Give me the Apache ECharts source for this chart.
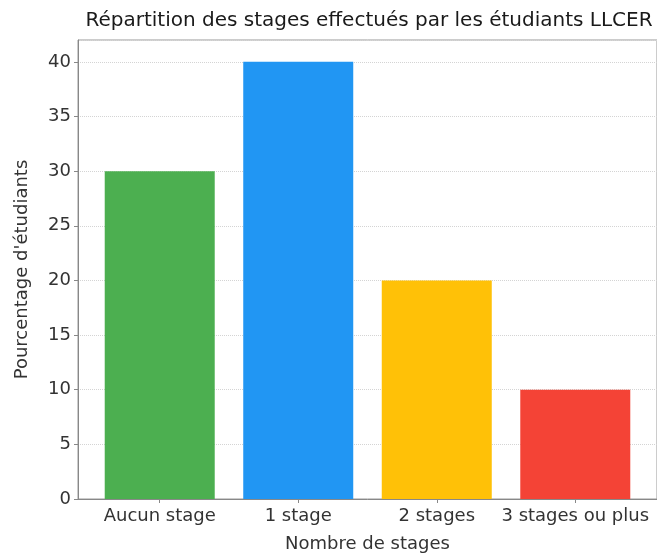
<!DOCTYPE html>
<html>
<head>
<meta charset="utf-8">
<script src="https://cdn.jsdelivr.net/npm/echarts@6/dist/echarts.min.js"></script>
<style>
  html, body { margin: 0; padding: 0; background: #fff; }
  #chart { width: 657px; height: 555px; }
</style>
</head>
<body>
<div id="chart"></div>
<script>
const categories = ['Aucun stage', '1 stage', '2 stages', '3 stages ou plus'];
const percentages = [30, 40, 20, 10];
const barColors = ['#4caf50', '#2196f3', '#ffc107', '#f44336'];
const yTicks = [0, 5, 10, 15, 20, 25, 30, 35, 40];

const font = '"DejaVu Sans", sans-serif';
const chart = echarts.init(document.getElementById('chart'));

const option = {
  animation: false,
  title: {
    text: 'Répartition des stages effectués par les étudiants LLCER',
    left: 364,
    textAlign: 'center',
    top: 6,
    textStyle: { fontFamily: font, fontSize: 20, fontWeight: 'normal', color: '#1a1a1a' }
  },
  grid: {
    left: 78, right: 0, top: 40, bottom: 56,
    outerBoundsMode: 'none',
    containLabel: false,
    show: true, borderColor: '#999', borderWidth: 1
  },
  xAxis: {
    type: 'value',
    min: -0.59,
    max: 3.59,
    name: 'Nombre de stages',
    nameLocation: 'middle',
    nameGap: 36,
    nameTextStyle: { fontFamily: font, fontSize: 18, color: '#333' },
    axisLine: { show: true, onZero: false, lineStyle: { color: '#888' } },
    axisTick: { show: true, customValues: [0, 1, 2, 3], length: 4, lineStyle: { color: '#888' } },
    axisLabel: {
      customValues: [0, 1, 2, 3],
      formatter: v => categories[Math.round(v)] || '',
      fontFamily: font, fontSize: 18, color: '#333', margin: 8
    },
    splitLine: { show: false }
  },
  yAxis: {
    type: 'value',
    min: 0,
    max: 42,
    interval: 5,
    name: "Pourcentage d'étudiants",
    nameLocation: 'middle',
    nameGap: 47,
    nameTextStyle: { fontFamily: font, fontSize: 18, color: '#333' },
    axisLine: { show: true, onZero: false, lineStyle: { color: '#888' } },
    axisTick: { show: true, length: 4, lineStyle: { color: '#888' } },
    axisLabel: {
      showMaxLabel: false,
      formatter: v => (yTicks.indexOf(v) >= 0 ? String(v) : ''),
      fontFamily: font, fontSize: 18, color: '#333', margin: 7
    },
    splitLine: { show: true, lineStyle: { color: '#d4d4d4', type: 'dotted' } }
  },
  series: [{
    type: 'bar',
    barWidth: 110,
    data: percentages.map((v, i) => ({
      value: [i, v],
      itemStyle: { color: barColors[i] }
    }))
  }]
};

chart.setOption(option);
</script>
</body>
</html>
